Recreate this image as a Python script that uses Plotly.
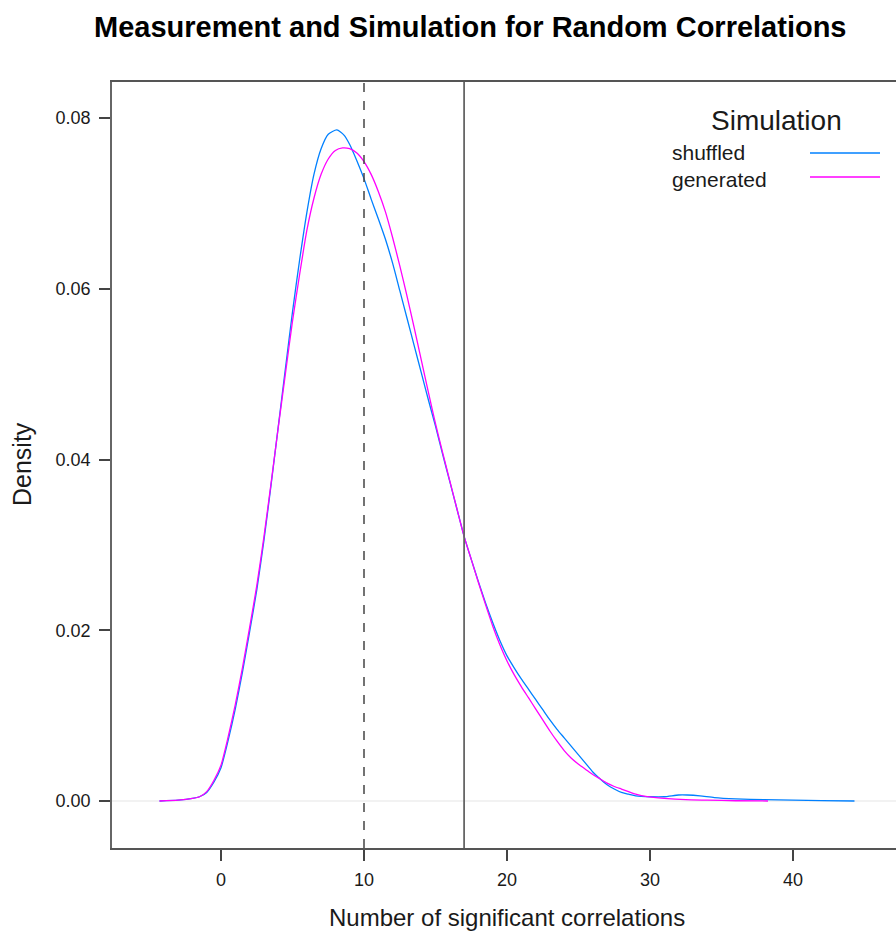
import plotly.graph_objects as go

# ---- data ----
shuffled_x = [-4.3, -3.0, -2.0, -1.5, -1.0, -0.5, 0.0, 0.5, 1.0, 1.5, 2.0, 2.5, 3.0, 3.5,
              4.0, 4.5, 5.0, 5.5, 6.0, 6.5, 7.0, 7.5, 8.1, 8.6, 9.0, 9.5, 10.0, 10.5, 11.0,
              11.5, 12.0, 12.5, 13.0, 13.5, 14.0, 14.5, 15.0, 15.5, 16.0, 16.5, 17.0, 17.5,
              18.0, 18.5, 19.0, 19.5, 20.0, 20.5, 21.0, 21.5, 22.0, 22.5, 23.0, 23.5, 24.0,
              24.5, 25.0, 25.5, 26.0, 26.5, 27.0, 27.5, 28.0, 28.5, 29.0, 30.0, 31.0, 32.0,
              32.6, 33.5, 34.5, 36.0, 38.0, 40.0, 42.0, 44.3]
shuffled_d = [0.0, 0.0001, 0.0003, 0.0005, 0.0010, 0.0022, 0.0039, 0.0071, 0.0108, 0.0151,
              0.0198, 0.0247, 0.0305, 0.0370, 0.0438, 0.0506, 0.0573, 0.0634, 0.0689, 0.0734,
              0.0764, 0.0781, 0.0786, 0.0780, 0.0769, 0.0750, 0.0729, 0.0705, 0.0682, 0.0658,
              0.0630, 0.0598, 0.0566, 0.0534, 0.0502, 0.0470, 0.0439, 0.0406, 0.0374, 0.0342,
              0.0310, 0.0283, 0.0257, 0.0232, 0.0209, 0.0188, 0.0170, 0.0156, 0.0143, 0.0131,
              0.0119, 0.0107, 0.0095, 0.0084, 0.0074, 0.0064, 0.0054, 0.0044, 0.0034, 0.0026,
              0.0019, 0.0014, 0.0010, 0.0008, 0.0006, 0.0005, 0.0005, 0.0007, 0.0007, 0.0006,
              0.0004, 0.00025, 0.00015, 0.0001, 0.00005, 0.0]

generated_x = [-4.3, -3.0, -2.0, -1.5, -1.0, -0.5, 0.0, 0.5, 1.0, 1.5, 2.0, 2.5, 3.0, 3.5,
               4.0, 4.5, 5.0, 5.5, 6.0, 6.5, 7.0, 7.5, 8.0, 8.5, 9.0, 9.5, 10.0, 10.5, 11.0,
               11.5, 12.0, 12.5, 13.0, 13.5, 14.0, 14.5, 15.0, 15.5, 16.0, 16.5, 17.0, 17.5,
               18.0, 18.5, 19.0, 19.5, 20.0, 20.5, 21.0, 21.5, 22.0, 22.5, 23.0, 23.5, 24.0,
               24.5, 25.0, 25.5, 26.0, 26.5, 27.0, 27.5, 28.0, 28.5, 29.0, 29.8, 31.0, 32.5,
               34.0, 36.0, 38.25]
generated_d = [0.0, 0.0001, 0.0003, 0.0005, 0.0011, 0.0024, 0.0042, 0.0075, 0.0113, 0.0156,
               0.0203, 0.0252, 0.0309, 0.0372, 0.0437, 0.0500, 0.0562, 0.0617, 0.0668, 0.0706,
               0.0734, 0.0752, 0.0762, 0.0765, 0.0764, 0.0759, 0.0749, 0.0734, 0.0714, 0.0690,
               0.0660, 0.0627, 0.0592, 0.0555, 0.0517, 0.0479, 0.0442, 0.0408, 0.0375, 0.0342,
               0.0310, 0.0283, 0.0256, 0.0230, 0.0205, 0.0183, 0.0164, 0.0148, 0.0134, 0.0121,
               0.0108, 0.0095, 0.0082, 0.0070, 0.0059, 0.0050, 0.0043, 0.0037, 0.0031, 0.0026,
               0.0021, 0.0017, 0.0014, 0.0011, 0.0008, 0.0005, 0.0003, 0.00015, 0.0001,
               0.00003, 0.0]

measured_median = 10   # dashed reference line
observed_value = 17    # solid reference line

x_ticks = [0, 10, 20, 30, 40]
y_ticks = [0.00, 0.02, 0.04, 0.06, 0.08]
y_tick_labels = ["0.00", "0.02", "0.04", "0.06", "0.08"]

series_names = ["shuffled", "generated"]
series_colors = ["#0080ff", "#ff00ff"]

FONT = "Liberation Sans, Arial, sans-serif"

fig = go.Figure()

# zero reference line
fig.add_hline(y=0, line=dict(color="#e6e6e6", width=1.2), layer="below")

for xs, ds, name, col in [(shuffled_x, shuffled_d, series_names[0], series_colors[0]),
                          (generated_x, generated_d, series_names[1], series_colors[1])]:
    fig.add_trace(go.Scatter(x=xs, y=ds, mode="lines", name=name,
                             line=dict(color=col, width=1.3, shape="spline", smoothing=0.6),
                             showlegend=False))

fig.add_vline(x=measured_median, line=dict(color="#444444", width=1.5, dash="dash"))
fig.add_vline(x=observed_value, line=dict(color="#666666", width=1.8))

W, H = 896, 931
L, R, T, B = 112, 0, 82, 83
pw, ph = W - L - R, H - T - B

def px_x(px):
    return (px - L) / pw

def px_y(py):
    return (H - B - py) / ph

# legend (lattice-style: text left, line right)
fig.add_annotation(text="Simulation", xref="paper", yref="paper", x=px_x(776), y=px_y(120),
                   showarrow=False, xanchor="center", yanchor="middle",
                   font=dict(family=FONT, size=28, color="#1a1a1a"))
for i, (name, col) in enumerate(zip(series_names, series_colors)):
    yy = [152, 179][i]
    ly = [153, 177][i]
    fig.add_annotation(text=name, xref="paper", yref="paper", x=px_x(670), y=px_y(yy),
                       showarrow=False, xanchor="left", yanchor="middle",
                       font=dict(family=FONT, size=21, color="#1a1a1a"))
    fig.add_shape(type="line", xref="paper", yref="paper", x0=px_x(810), x1=px_x(880),
                  y0=px_y(ly), y1=px_y(ly), line=dict(color=col, width=1.4))

# title
fig.add_annotation(text="<b>Measurement and Simulation for Random Correlations</b>",
                   xref="paper", yref="paper", x=px_x(470), y=px_y(27), showarrow=False,
                   xanchor="center", yanchor="middle",
                   font=dict(family=FONT, size=29, color="#000000"))

# axis titles
fig.add_annotation(text="Number of significant correlations", xref="paper", yref="paper",
                   x=px_x(507), y=px_y(917), showarrow=False, xanchor="center",
                   yanchor="middle", font=dict(family=FONT, size=24, color="#1a1a1a"))
fig.add_annotation(text="Density", xref="paper", yref="paper", x=px_x(22), y=px_y(464),
                   showarrow=False, xanchor="center", yanchor="middle", textangle=-90,
                   font=dict(family=FONT, size=25, color="#1a1a1a"))

fig.update_layout(
    width=W, height=H,
    margin=dict(l=L, r=R, t=T, b=B),
    paper_bgcolor="white", plot_bgcolor="white",
    font=dict(family=FONT, color="#1a1a1a"),
    showlegend=False,
)
fig.update_xaxes(
    range=[(L - 221) / 14.3, (W - 221) / 14.3],
    tickvals=x_ticks, ticks="outside", ticklen=11, tickwidth=1.5, tickcolor="#444",
    showline=True, linecolor="#555", linewidth=1.6, mirror=True,
    showgrid=False, zeroline=False, ticklabelstandoff=4,
    tickfont=dict(size=18, family=FONT, color="#1a1a1a"),
)
fig.update_yaxes(
    range=[-(848 - 801) / 8537.5, 0.08 + (118 - 82) / 8537.5],
    tickvals=y_ticks, ticktext=y_tick_labels, ticks="outside", ticklen=11, tickwidth=1.5,
    tickcolor="#444", showline=True, linecolor="#666", linewidth=1.6, mirror=False,
    showgrid=False, zeroline=False, ticklabelstandoff=5,
    tickfont=dict(size=18, family=FONT, color="#1a1a1a"),
)

fig.write_html("out.html")
